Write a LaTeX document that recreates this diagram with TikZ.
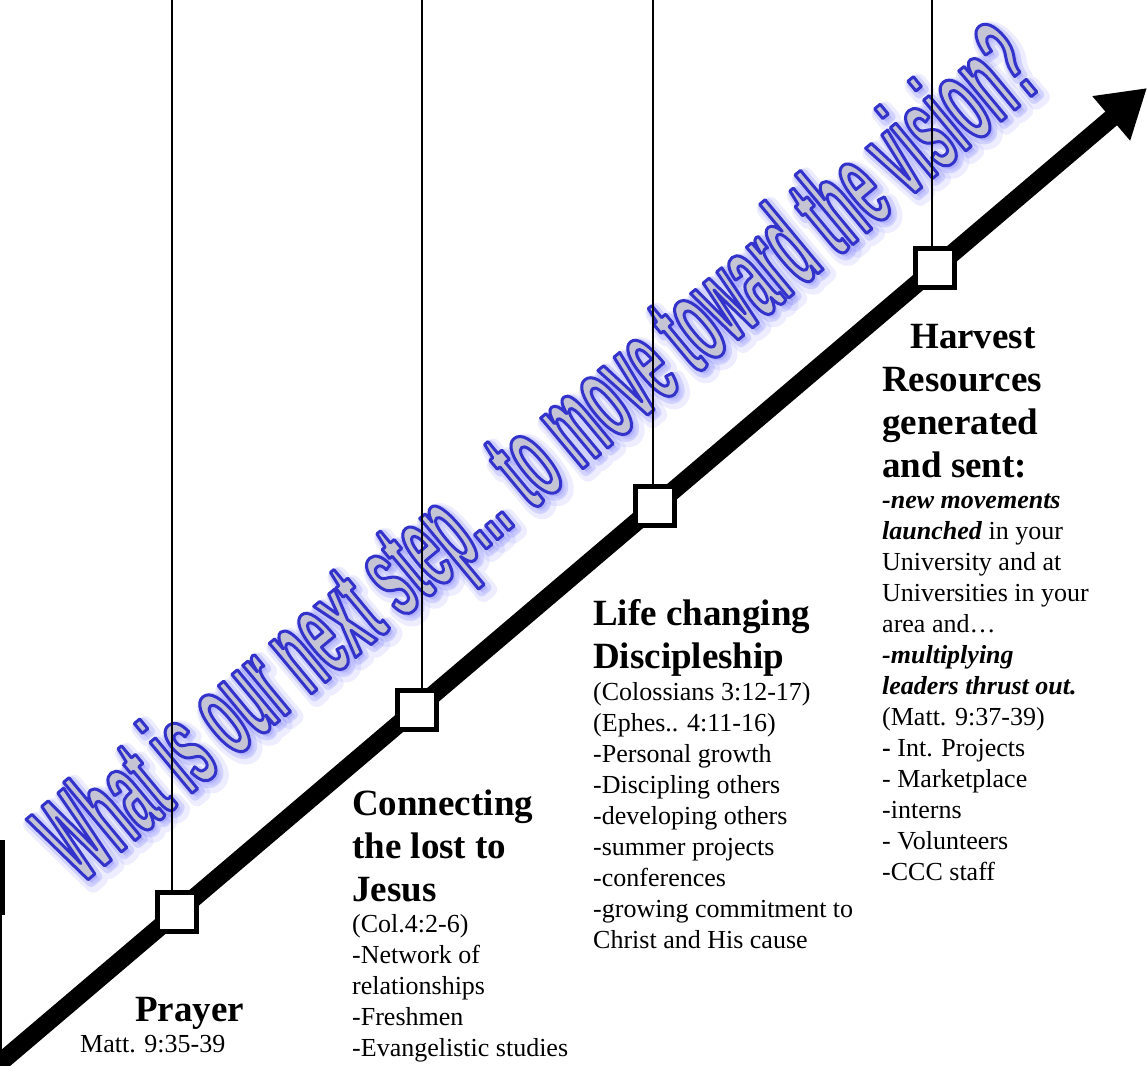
\documentclass[tikz,border=0pt]{standalone}
\usepackage{fontspec}
\setmainfont{Liberation Serif}
\newfontfamily\artfont[FakeStretch=0.414]{Liberation Sans}
\usetikzlibrary{arrows.meta}

\definecolor{artgray}{RGB}{196,196,212}
\definecolor{glowblue}{RGB}{110,110,255}
\newcommand{\textmode}[1]{\special{pdf:literal direct #1}}
\newcommand{\visiontext}{What is our next step... to move toward the vision?}

\tikzset{
  stepbox/.style={draw, fill=white, line width=5.5pt, minimum size=39pt, inner sep=0pt},
  pole/.style={line width=1.2pt},
  head/.style={anchor=base west, inner sep=0pt, align=left, font=\bfseries\fontsize{37}{43}\selectfont},
  body/.style={anchor=base west, inner sep=0pt, align=left, font=\fontsize{26}{31}\selectfont},
  arttext/.style={anchor=base, inner sep=0pt, rotate=39.7, font=\artfont\bfseries\fontsize{125}{130}\selectfont}
}

\begin{document}
\begin{tikzpicture}[x=1pt,y=-1pt]
        \useasboundingbox (0,0) rectangle (1147,1065);
        \clip (0,0) rectangle (1147,1065);

        \node[arttext, text=glowblue, opacity=0.12] (glow1) at (569,489.5) {\textmode{0.43 0.43 1 RG 16 w 1 j 1 J 2 Tr}\visiontext\textmode{0 Tr}};
        \node[arttext, text=glowblue, opacity=0.22] (glow2) at (567,487.5) {\textmode{0.43 0.43 1 RG 9 w 1 j 1 J 2 Tr}\visiontext\textmode{0 Tr}};
        \node[arttext, text=artgray] (vision) at (564,484.5) {\textmode{0.2 0.2 0.8 RG 3 w 1 j 2 Tr}\visiontext\textmode{0 Tr}};

        \coordinate (t1) at (172,0);
        \coordinate (t2) at (422,0);
        \coordinate (t3) at (653,0);
        \coordinate (t4) at (932,0);
        \coordinate (tail) at (-5,1067);
        \coordinate (tip) at (1147,88);

        \draw[line width=18pt, -{Triangle[length=47pt,width=55pt]}] (tail) -- (tip);

        \node[stepbox] (s1) at (177,912) {};
        \node[stepbox] (s2) at (417,710) {};
        \node[stepbox] (s3) at (655,506) {};
        \node[stepbox] (s4) at (935,268) {};

        \draw[pole] (t1) -- (t1 |- s1.north);
        \draw[pole] (t2) -- (t2 |- s2.north);
        \draw[pole] (t3) -- (t3 |- s3.north);
        \draw[pole] (t4) -- (t4 |- s4.north);

        \fill (0,840) rectangle (4.5,915);
        \draw[line width=1.5pt] (1,915) -- (1,1065);

        \node[head] (prayer) at (135,1021) {Prayer};
        \node[body] (prayerref) at (80,1052) {Matt. 9:35-39};

        \node[head] (connect) at (352,901) {Connecting\\the lost to\\Jesus};
        \node[body] (connectlist) at (352,1056) {(Col.4:2-6)\\-Network of\\relationships\\-Freshmen\\-Evangelistic studies};

        \node[head] (disciple) at (593,668) {Life changing\\Discipleship};
        \node[body] (disciplelist) at (593,948) {(Colossians 3:12-17)\\(Ephes.. 4:11-16)\\-Personal growth\\-Discipling others\\-developing others\\-summer projects\\-conferences\\-growing commitment to\\Christ and His cause};

        \node[head] (harvest) at (882,477) {\hspace*{28pt}Harvest\\Resources\\generated\\and sent:};
        \node[body] (harvestlist) at (882,880) {\textbf{\textit{-new movements}}\\\textbf{\textit{launched}} in your\\University and at\\Universities in your\\area and…\\\textbf{\textit{-multiplying}}\\\textbf{\textit{leaders thrust out.}}\\(Matt. 9:37-39)\\\textbf{-} Int. Projects\\- Marketplace\\-interns\\- Volunteers\\-CCC staff};
\end{tikzpicture}
\end{document}
